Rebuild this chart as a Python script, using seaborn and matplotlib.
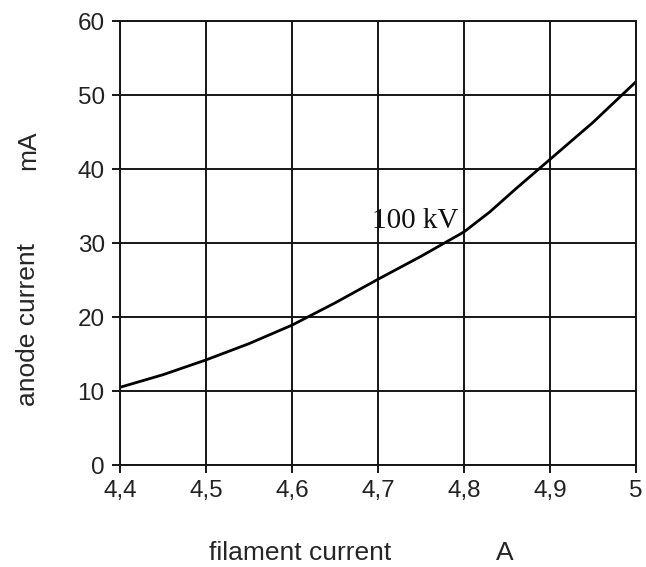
import matplotlib
matplotlib.use("Agg")
import matplotlib.pyplot as plt
import seaborn as sns
import pandas as pd

# data
filament_current = [4.40, 4.45, 4.50, 4.55, 4.60, 4.65, 4.70, 4.75, 4.80, 4.83, 4.86, 4.90, 4.95, 5.00]
anode_current = [10.5, 12.2, 14.2, 16.4, 18.9, 21.9, 25.1, 28.2, 31.5, 34.2, 37.3, 41.3, 46.3, 51.8]
x_ticks = [4.4, 4.5, 4.6, 4.7, 4.8, 4.9, 5.0]
x_tick_labels = ["4,4", "4,5", "4,6", "4,7", "4,8", "4,9", "5"]
y_ticks = [0, 10, 20, 30, 40, 50, 60]
curve_label = "100 kV"

df = pd.DataFrame({"I_f": filament_current, "I_a": anode_current})

sns.set_theme(style="white")
plt.rcParams["font.family"] = ["Liberation Sans", "DejaVu Sans"]

fig = plt.figure(figsize=(6.46, 5.67), dpi=100)
ax = fig.add_axes([120 / 646, 1 - 465 / 567, (636 - 120) / 646, (465 - 21) / 567])

sns.lineplot(data=df, x="I_f", y="I_a", ax=ax, color="black", linewidth=2.0)

ax.set_xlim(4.4, 5.0)
ax.set_ylim(0, 60)
ax.set_xticks(x_ticks)
ax.set_xticklabels(x_tick_labels)
ax.set_yticks(y_ticks)
ax.grid(True, color="#151515", linewidth=1.4)
for s in ax.spines.values():
    s.set_color("#151515")
    s.set_linewidth(1.4)
ax.tick_params(axis="both", which="both", direction="out", length=6, width=1.4,
               color="#151515", labelsize=17.5, labelcolor="#222222", pad=5,
               bottom=True, left=True)
ax.set_xlabel("")
ax.set_ylabel("")

ax.text(4.743, 33.0, curve_label, fontsize=21, family=["Liberation Serif", "DejaVu Serif"],
        ha="center", va="center", color="#111111")

fig.text(300 / 646, 1 - 553 / 567, "filament current", fontsize=19, ha="center", va="center")
fig.text(505 / 646, 1 - 553 / 567, "A", fontsize=19, ha="center", va="center")
fig.text(28 / 646, 1 - 325 / 567, "anode current", fontsize=19, ha="center", va="center", rotation=90)
fig.text(28 / 646, 1 - 150 / 567, "mA", fontsize=19, ha="center", va="center", rotation=90)

fig.savefig("out.png", dpi=100, facecolor="white")
